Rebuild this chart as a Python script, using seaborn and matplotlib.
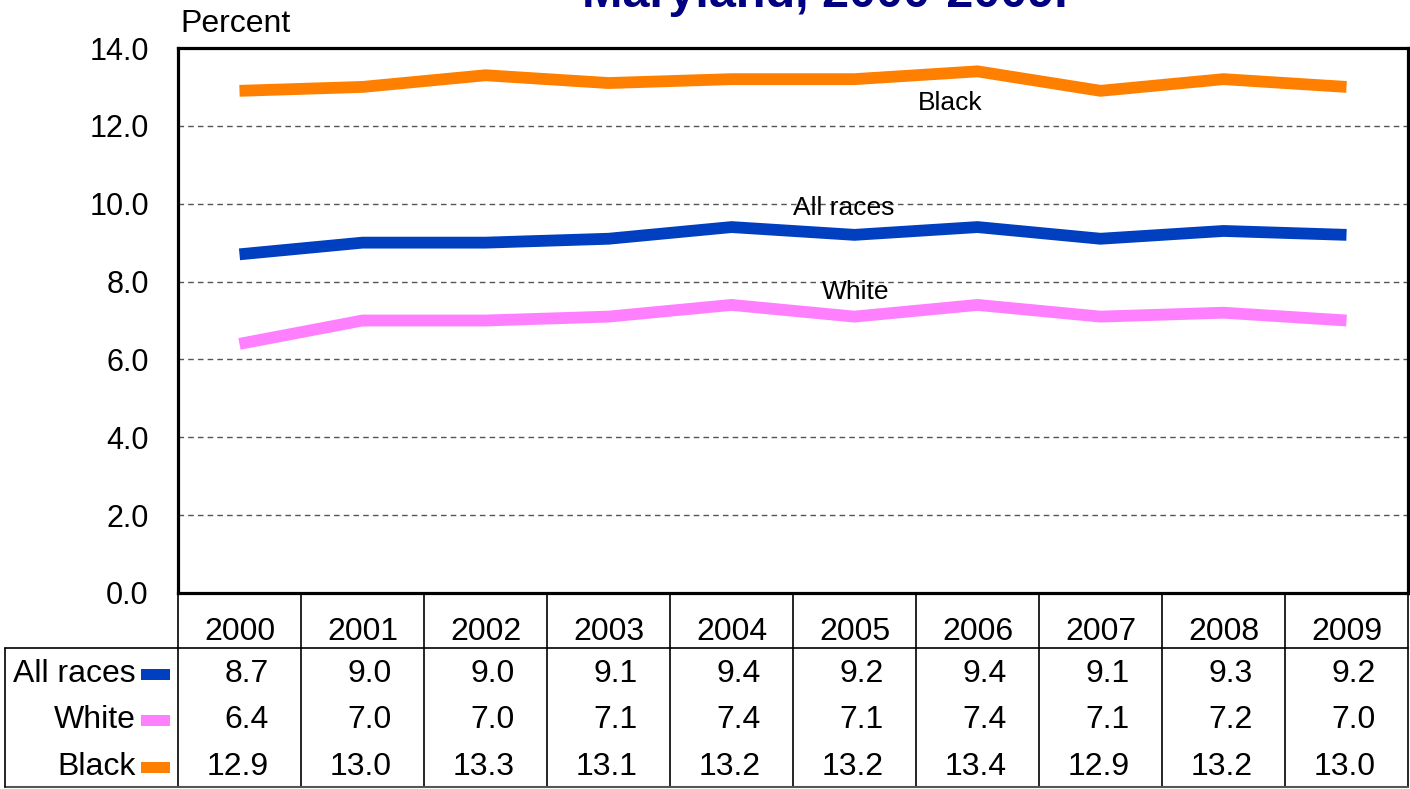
#Importing libraries
import pandas as pd
import matplotlib.pyplot as plt
import matplotlib.transforms as mtransforms
from matplotlib.patches import Rectangle
import seaborn as sns

#Data
years = ['2000', '2001', '2002', '2003', '2004', '2005', '2006', '2007', '2008', '2009']
all_races = [8.7, 9.0, 9.0, 9.1, 9.4, 9.2, 9.4, 9.1, 9.3, 9.2]
white = [6.4, 7.0, 7.0, 7.1, 7.4, 7.1, 7.4, 7.1, 7.2, 7.0]
black = [12.9, 13.0, 13.3, 13.1, 13.2, 13.2, 13.4, 12.9, 13.2, 13.0]
groups = ['All races', 'White', 'Black']
colors = {'All races': '#0040C0', 'White': '#FF80FF', 'Black': '#FF8000'}

#Long form table for seaborn
df = pd.DataFrame({
    'pos': list(range(len(years))) * 3,
    'group': [g for g in groups for _ in years],
    'pct': all_races + white + black,
})
values = {'All races': all_races, 'White': white, 'Black': black}

sns.set_style('white')
plt.rcParams['font.family'] = ['Liberation Sans', 'DejaVu Sans']
plt.rcParams['text.color'] = 'black'
plt.rcParams['ytick.color'] = 'black'
plt.rcParams['ytick.labelcolor'] = 'black'

fig = plt.figure(figsize=(14.1, 7.89), dpi=100)
ax = fig.add_axes([178 / 1410, 196 / 789, 1230 / 1410, 545 / 789])

sns.lineplot(data=df, x='pos', y='pct', hue='group', palette=colors, hue_order=groups,
             linewidth=8.5, sort=False, legend=False, ax=ax)
ax.lines[0].set_zorder(3)
for line in ax.lines:
    line.set_solid_capstyle('butt')
    line.set_solid_joinstyle('miter')

ax.set_xlim(-0.5, 9.5)
ax.set_ylim(0, 14)
ax.set_xticks([])
ax.set_yticks([0, 2, 4, 6, 8, 10, 12, 14])
ax.set_yticklabels(['%.1f' % v for v in [0, 2, 4, 6, 8, 10, 12, 14]], fontsize=22)
ax.tick_params(axis='y', length=0, pad=21)
ax.set_xlabel('')
ax.set_ylabel('')
ax.yaxis.grid(True, linestyle=(0, (4, 3)), color='#555555', linewidth=1)
ax.set_axisbelow(True)
for s in ax.spines.values():
    s.set_color('black')
    s.set_linewidth(2.3)
    s.set_visible(True)

#Line labels
ax.text(5.78, 12.59, 'Black', fontsize=19, ha='center', va='center')
ax.text(4.91, 9.89, 'All races', fontsize=19, ha='center', va='center')
ax.text(5.01, 7.73, 'White', fontsize=19, ha='center', va='center')

#Title (cut off at top) and axis label
fig.text(0.585, 0.9915, 'Maryland, 2000-2009.', fontsize=35, fontweight='bold',
         color='#000080', ha='center', va='baseline')
fig.text(180 / 1410, (789 - 32) / 789, 'Percent', fontsize=23, ha='left', va='baseline')

#Data table under the chart
trans = mtransforms.blended_transform_factory(ax.transData, ax.transAxes)
header_y = -55 / 545
bottom_y = -194 / 545
left_x = (5 - 178) / 1230
row_y = [-81 / 545, -127 / 545, -174 / 545]

for k in range(len(years) + 1):
    ax.plot([k - 0.5, k - 0.5], [0, bottom_y], color='black', lw=1.2,
            transform=trans, clip_on=False)
ax.plot([left_x, 1], [header_y, header_y], color='black', lw=1.2,
        transform=ax.transAxes, clip_on=False)
ax.plot([left_x, 1], [bottom_y, bottom_y], color='#555555', lw=1.5,
        transform=ax.transAxes, clip_on=False)
ax.plot([left_x, left_x], [header_y, bottom_y], color='black', lw=1.2,
        transform=ax.transAxes, clip_on=False)

for i, yr in enumerate(years):
    ax.text(i, -39 / 545, yr, fontsize=23, ha='center', va='center',
            transform=trans, clip_on=False)

for r, g in enumerate(groups):
    ax.text((136 - 178) / 1230, row_y[r], g, fontsize=23, ha='right', va='center',
            transform=ax.transAxes, clip_on=False)
    ax.add_patch(Rectangle(((141 - 178) / 1230, row_y[r] - 5.5 / 545), 29 / 1230, 11 / 545,
                           facecolor=colors[g], edgecolor='none',
                           transform=ax.transAxes, clip_on=False))
    for i, v in enumerate(values[g]):
        ax.text(i + 0.24, row_y[r], '%.1f' % v, fontsize=23, ha='right', va='center',
                transform=trans, clip_on=False)

plt.savefig('out.png', dpi=100)
